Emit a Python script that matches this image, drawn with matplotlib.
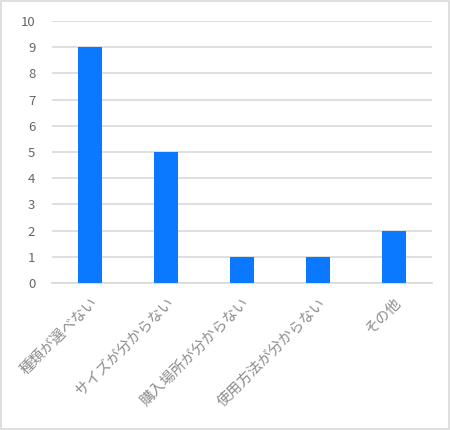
import matplotlib
matplotlib.use('Agg')
import matplotlib.pyplot as plt
import numpy as np

plt.rcParams['font.family'] = ['Noto Sans CJK JP', 'DejaVu Sans']

categories = ['種類が選べない', 'サイズが分からない', '購入場所が分からない', '使用方法が分からない', 'その他']
counts = [9, 5, 1, 1, 2]
yticks = list(range(0, 11))

fig = plt.figure(figsize=(4.5, 4.3), dpi=100)
ax = fig.add_axes([0.1156, 0.342, 0.8444, 0.609])

xpos = np.arange(len(categories))
ax.bar(xpos, counts, 0.31, color='#0a78ff', zorder=3)

ax.set_xlim(-0.5, len(categories) - 0.5)
ax.set_ylim(0, 10)
ax.set_yticks(yticks)
ax.set_xticks(xpos)
ax.set_xticklabels(categories, rotation=45, ha='right', rotation_mode='anchor',
                   fontsize=10.5, color='#8c8c8c')
ax.tick_params(axis='y', labelsize=9.5, labelcolor='#666666', length=0, pad=12)
ax.tick_params(axis='x', length=0, pad=9)
ax.grid(axis='y', color='#d9d9d9', linewidth=1.2, zorder=0)
for s in ['top', 'right', 'left']:
    ax.spines[s].set_visible(False)
ax.spines['bottom'].set_color('#d9d9d9')
ax.spines['bottom'].set_linewidth(1.2)

fig.patches.append(plt.Rectangle((0.003, 0.003), 0.994, 0.994, transform=fig.transFigure,
                                 fill=False, edgecolor='#d9d9d9', linewidth=1.2))

fig.savefig('out.png', dpi=100)
